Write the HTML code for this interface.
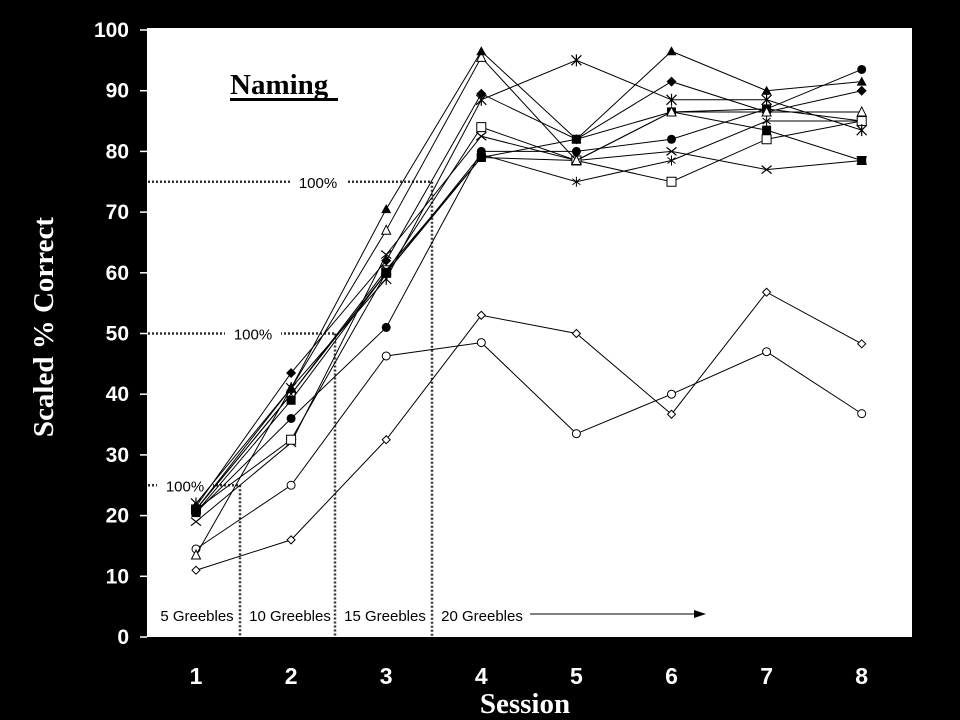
<!DOCTYPE html>
<html><head><meta charset="utf-8"><style>
html,body{margin:0;padding:0;background:#000;width:960px;height:720px;overflow:hidden}
svg{display:block}
</style></head><body>
<svg id="chart" width="960" height="720" viewBox="0 0 960 720" xmlns="http://www.w3.org/2000/svg">
<rect x="0" y="0" width="960" height="720" fill="#000"/>
<rect x="147" y="28" width="765" height="609" fill="#fff"/>
<g id="annot"></g>
<g id="series"></g>
<g id="axes"></g>
<text x="230" y="94" font-family="Liberation Serif, serif" font-weight="bold" font-size="29" fill="#000">Naming</text>
<rect x="230" y="98" width="108" height="3" fill="#000"/>
<text transform="translate(53,327) rotate(-90)" text-anchor="middle" font-family="Liberation Serif, serif" font-weight="bold" font-size="29" fill="#fff">Scaled % Correct</text>
<text x="525" y="713" text-anchor="middle" font-family="Liberation Serif, serif" font-weight="bold" font-size="29" fill="#fff">Session</text>
</svg>
<script>
const sessions=[1,2,3,4,5,6,7,8];
const yTicks=[0,10,20,30,40,50,60,70,80,90,100];
const sFilledTriangle=[21,41,70.5,96.5,82,96.5,90,91.5];
const sOpenTriangle=[13.5,41,67,95.5,78.5,86.5,86.5,86.5];
const sFilledDiamond=[21.5,43.5,62,89.5,82,91.5,86.5,90];
const sStar=[22,41,59,88.5,95,88.5,88.5,83.5];
const sOpenSquare=[21,32.5,60,84,78.5,75,82,85];
const sCross=[19,32,63,82.5,78.5,80,77,78.5];
const sFilledCircle=[20.5,36,51,80,80,82,87,93.5];
const sFilledSquare=[20.5,39,60,79,82,86.5,83.5,78.5];
const sStar2=[21,40,60,79.5,75,78.5,85,85];
const sBoxCross=[21,40,60.5,79,78.5,86.5,87,85];
const sOpenCircle=[14.5,25,46.3,48.5,33.5,40,47,36.8];
const sOpenDiamond=[11,16,32.5,53,50,36.7,56.8,48.3];
const greebleLabels=["5 Greebles","10 Greebles","15 Greebles","20 Greebles"];
const criterionLevels=[25,50,75];

const NS="http://www.w3.org/2000/svg";
const xS=s=>196+(s-1)*95.1;
const yS=v=>637-v*6.07;
function mk(tag,attrs,parent){const e=document.createElementNS(NS,tag);for(const k in attrs)e.setAttribute(k,attrs[k]);parent.appendChild(e);return e;}
const axes=document.getElementById('axes'),ser=document.getElementById('series'),ann=document.getElementById('annot');
const F='Liberation Sans, Arial, sans-serif';
yTicks.forEach(t=>{
  const l=mk('line',{x1:140,x2:147,y1:yS(t),y2:yS(t),stroke:'#fff','stroke-width':1.5},axes);
  
  const tx=mk('text',{x:129,y:yS(t)+7,'text-anchor':'end','font-family':F,'font-weight':'bold','font-size':21,fill:'#fff'},axes);
  tx.textContent=t;
});
sessions.forEach(s=>{
  const tx=mk('text',{x:xS(s),y:684,'text-anchor':'middle','font-family':F,'font-weight':'bold','font-size':23,fill:'#fff'},axes);
  tx.textContent=s;
});
// criterion lines
const vx=[240,335,432];
const lblx=[185,253,318];
criterionLevels.forEach((c,i)=>{
  const y=yS(c);
  const h=mk('line',{x1:148,x2:vx[i],y1:y,y2:y,stroke:'#333','stroke-width':2.5,'stroke-dasharray':'2 2'},ann);
  
  const bg=mk('rect',{x:lblx[i]-28,y:y-10,width:56,height:20,fill:'#fff'},ann);
  
  const t=mk('text',{x:lblx[i],y:y+6,'text-anchor':'middle','font-family':F,'font-size':15,fill:'#000'},ann);
  t.textContent='100%';
  const v=mk('line',{x1:vx[i],x2:vx[i],y1:y,y2:637,stroke:'#333','stroke-width':2.5,'stroke-dasharray':'2 2'},ann);
  
});
const gx=[197,290,385,482];
greebleLabels.forEach((g,i)=>{
  const t=mk('text',{x:gx[i],y:621,'text-anchor':'middle','font-family':F,'font-size':15,fill:'#000'},ann);
  t.textContent=g;
});
const ar=mk('line',{x1:530,x2:695,y1:614,y2:614,stroke:'#000','stroke-width':1},ann);

const ah=mk('polygon',{points:'706,614 694,610 694,618',fill:'#000'},ann);


function marker(type,x,y,g){
  let e;const r=4;
  switch(type){
    case 'ftri':e=mk('polygon',{points:`${x},${y-5} ${x-5},${y+4} ${x+5},${y+4}`,fill:'#000'},g);break;
    case 'otri':e=mk('polygon',{points:`${x},${y-5} ${x-4.5},${y+4} ${x+4.5},${y+4}`,fill:'#fff',stroke:'#000'},g);break;
    case 'fdia':e=mk('polygon',{points:`${x},${y-5} ${x+5},${y} ${x},${y+5} ${x-5},${y}`,fill:'#000'},g);break;
    case 'odia':e=mk('polygon',{points:`${x},${y-4} ${x+4},${y} ${x},${y+4} ${x-4},${y}`,fill:'#fff',stroke:'#000'},g);break;
    case 'fsq':e=mk('rect',{x:x-4.5,y:y-4.5,width:9,height:9,fill:'#000'},g);break;
    case 'osq':e=mk('rect',{x:x-4.5,y:y-4.5,width:9,height:9,fill:'#fff',stroke:'#000'},g);break;
    case 'bx':e=mk('path',{d:`M${x-4},${y-4}h8v8h-8z M${x-4},${y-4}L${x+4},${y+4} M${x+4},${y-4}L${x-4},${y+4}`,fill:'#fff',stroke:'#000'},g);break;
    case 'fci':e=mk('circle',{cx:x,cy:y,r:4.5,fill:'#000'},g);break;
    case 'oci':e=mk('circle',{cx:x,cy:y,r:4,fill:'#fff',stroke:'#000'},g);break;
    case 'x':e=mk('path',{d:`M${x-5},${y-4}L${x+5},${y+4} M${x+5},${y-4}L${x-5},${y+4}`,stroke:'#000','stroke-width':1.2,fill:'none'},g);break;
    case 'star':e=mk('path',{d:`M${x-5},${y-5}L${x+5},${y+5} M${x+5},${y-5}L${x-5},${y+5} M${x},${y-6}V${y+6}`,stroke:'#000','stroke-width':1.2,fill:'none'},g);break;
    case 'star2':e=mk('path',{d:`M${x-4},${y-3}L${x+4},${y+3} M${x+4},${y-3}L${x-4},${y+3} M${x},${y-5}V${y+5}`,stroke:'#000','stroke-width':1,fill:'none'},g);break;
  }
  
}
const all=[[sOpenDiamond,'odia','open-diamond'],[sOpenCircle,'oci','open-circle'],[sStar2,'star2','star-b'],[sBoxCross,'bx','boxed-cross'],[sCross,'x','cross'],[sOpenSquare,'osq','open-square'],[sFilledCircle,'fci','filled-circle'],[sFilledSquare,'fsq','filled-square'],[sStar,'star','asterisk'],[sFilledDiamond,'fdia','filled-diamond'],[sOpenTriangle,'otri','open-triangle'],[sFilledTriangle,'ftri','filled-triangle']];
all.forEach(([vals,type,name])=>{
  const g=mk('g',{},ser);
  
  const pts=vals.map((v,i)=>xS(sessions[i])+','+yS(v)).join(' ');
  const pl=mk('polyline',{points:pts,fill:'none',stroke:'#000','stroke-width':1},g);
  
  vals.forEach((v,i)=>marker(type,xS(sessions[i]),yS(v),g));
});
</script>
</body></html>
